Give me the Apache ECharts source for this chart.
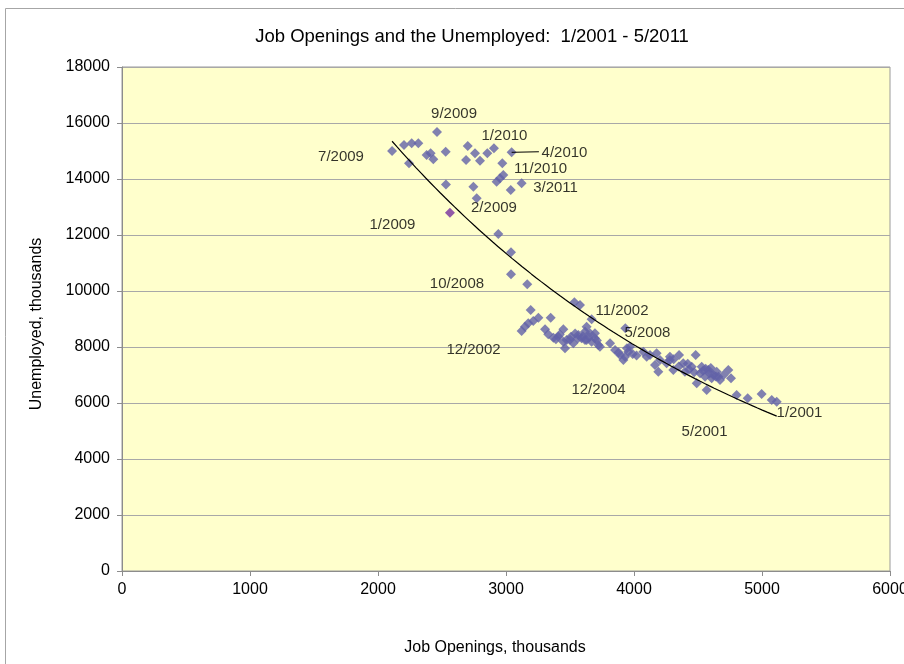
<!DOCTYPE html>
<html><head><meta charset="utf-8">
<script src="https://cdn.jsdelivr.net/npm/echarts@6/dist/echarts.min.js"></script>
<style>html,body{margin:0;padding:0;background:#fff}#c{width:904px;height:664px}</style>
</head><body><div id="c"></div>
<script>
// Job openings (thousands) for each month point
const jobOpenings = [
 2110,2203,2263,2315,2242,2461,2380,2411,2432,2529,2531,2701,2758,2688,2745,2771,2797,2854,2906,2971,3044,2979,2953,2927,3037,3122,
 2562,
 2940,3039,3039,3166,3534,3578,
 3193,3349,3253,3213,3174,3148,3122,3305,3330,3370,3409,3448,3474,3461,3508,3526,3565,3591,3448,3630,3630,3669,3695,3617,3656,3695,3617,3669,3721,3734,3813,3932,3852,3891,3917,3956,3969,3945,4073,4099,4177,4203,4190,4255,4125,4164,4281,4307,
 4281,4352,4385,4398,4482,4451,4490,4529,4516,4568,4581,4555,4607,4646,4659,4672,4737,4758,4802,4888,4997,5076,5115,
 3560,3600,3650,3540,3500,3420,3390,3710,3880,3930,3990,4020,4350,4430,4470,4540,4590,4620,4560,4640,4600,4700,4420,4310
];
// Unemployed (thousands), same order
const unemployed = [
 15000,15214,15275,15275,14560,15680,14857,14917,14702,14976,13800,15179,14917,14679,13726,13310,14653,14917,15096,14560,14953,14143,14024,13905,13607,13845,
 12797,
 12036,11382,10596,10238,9596,9500,
 9321,9047,9047,8929,8845,8726,8571,8631,8452,8333,8369,8631,8250,7952,8369,8131,8429,8310,8190,8726,8250,8988,8488,8548,8488,8310,8250,8190,8071,8012,8131,8667,7893,7714,7536,7833,8012,7952,7833,7655,7774,7536,7119,7417,7714,7357,7536,7179,
 7655,7714,7417,7119,7714,7298,6702,7298,7060,6464,7179,6940,6881,7119,6940,6821,7179,6881,6286,6167,6321,6107,6046,
 8300,8380,8350,8480,8260,8450,8280,8230,7800,7650,7750,7700,7300,7200,7100,7150,7050,7000,7220,6950,7250,7000,7400,7560
];
const highlightIndex = 26;   // the 1/2009 point
const leaderIndex = 20;      // the 4/2010 point

// Date annotations: text and anchor (data units)
const annotationText = ['9/2009','7/2009','1/2010','4/2010','11/2010','3/2011','2/2009','1/2009','10/2008','11/2002','5/2008','12/2002','12/2004','5/2001','1/2001'];
const annotationX =    [2594, 1711, 2988, 3457, 3270, 3387, 2906, 2113, 2617, 3906, 4105, 2746, 3723, 4551, 5293];
const annotationY =    [16321,14786,15536,14929,14357,13679,12964,12357,10250,9286, 8500, 7893, 6464, 4964, 5643];

const xMin = 0, xMax = 6000, xStep = 1000;
const yMin = 0, yMax = 18000, yStep = 2000;

const FONT = "'Liberation Sans', Arial, sans-serif";

// exponential least-squares trendline (fit of ln y on x)
let n = jobOpenings.length, sx = 0, sy = 0, sxx = 0, sxy = 0;
for (let i = 0; i < n; i++) {
  const x = jobOpenings[i], ly = Math.log(unemployed[i]);
  sx += x; sy += ly; sxx += x * x; sxy += x * ly;
}
const b = (n * sxy - sx * sy) / (n * sxx - sx * sx);
const a = Math.exp((sy - b * sx) / n);
const tMin = Math.min(...jobOpenings), tMax = Math.max(...jobOpenings);
const trend = [];
for (let i = 0; i <= 80; i++) {
  const x = tMin + (tMax - tMin) * i / 80;
  trend.push([x, a * Math.exp(b * x)]);
}

const pts = jobOpenings.map((x, i) => {
  const d = { value: [x, unemployed[i]] };
  if (i === highlightIndex) d.itemStyle = { color: '#76309E' };
  return d;
});
const ann = annotationText.map((t, i) => ({ name: t, value: [annotationX[i], annotationY[i]] }));
const leader = [[jobOpenings[leaderIndex], unemployed[leaderIndex]], [annotationX[3] - 200, unemployed[leaderIndex] + 20]];

const chart = echarts.init(document.getElementById('c'), null, { renderer: 'canvas' });
chart.setOption({
  animation: false,
  backgroundColor: '#ffffff',
  textStyle: { fontFamily: FONT },
  grid: { left: 122, top: 67, width: 768, height: 504, outerBoundsMode: 'none', containLabel: false, show: true, backgroundColor: '#FFFFCC', borderColor: '#9A9A9A', borderWidth: 1 },
  xAxis: {
    type: 'value', min: xMin, max: xMax, interval: xStep,
    axisLine: { show: true, lineStyle: { color: '#8C8C8C' } },
    axisTick: { show: true, inside: false, length: 5, lineStyle: { color: '#8C8C8C' } },
    axisLabel: { color: '#000', fontSize: 16, margin: 11, fontFamily: FONT, formatter: v => String(v), hideOverlap: false },
    splitLine: { show: false }
  },
  yAxis: {
    type: 'value', min: yMin, max: yMax, interval: yStep,
    axisLine: { show: true, lineStyle: { color: '#8C8C8C' } },
    axisTick: { show: true, inside: false, length: 5, lineStyle: { color: '#8C8C8C' } },
    axisLabel: { color: '#000', fontSize: 16, margin: 12, fontFamily: FONT, formatter: v => String(v), hideOverlap: false },
    splitLine: { show: true, lineStyle: { color: '#A8A8A8', width: 1 } }
  },
  series: [
    {
      type: 'scatter', data: pts, symbol: 'diamond', symbolSize: 10,
      itemStyle: { color: '#6262A8' }, z: 3
    },
    {
      type: 'line', data: trend, showSymbol: false, symbol: 'none', smooth: false,
      lineStyle: { color: '#000', width: 1.2 }, z: 4
    },
    {
      type: 'line', data: leader, showSymbol: false, symbol: 'none',
      lineStyle: { color: '#000', width: 1 }, z: 4
    },
    {
      type: 'scatter', data: ann, symbolSize: 0, z: 5,
      label: { show: true, position: 'inside', formatter: p => p.name, color: '#000', fontSize: 15, fontFamily: FONT }
    }
  ],
  graphic: [
    { type: 'rect', shape: { x: 5.5, y: 8.5, width: 940, height: 700 }, style: { fill: 'none', stroke: '#A6A6A6', lineWidth: 1 }, z: -10 },
    { type: 'text', x: 472, y: 37, style: { text: 'Job Openings and the Unemployed:  1/2001 - 5/2011', fontSize: 18.5, fontFamily: FONT, fill: '#000', textAlign: 'center', textVerticalAlign: 'middle' } },
    { type: 'text', x: 495, y: 648, style: { text: 'Job Openings, thousands', fontSize: 16, fontFamily: FONT, fill: '#000', textAlign: 'center', textVerticalAlign: 'middle' } },
    { type: 'text', x: 37, y: 324, rotation: Math.PI / 2, style: { text: 'Unemployed, thousands', fontSize: 16, fontFamily: FONT, fill: '#000', textAlign: 'center', textVerticalAlign: 'middle' } }
  ]
});
</script></body></html>
